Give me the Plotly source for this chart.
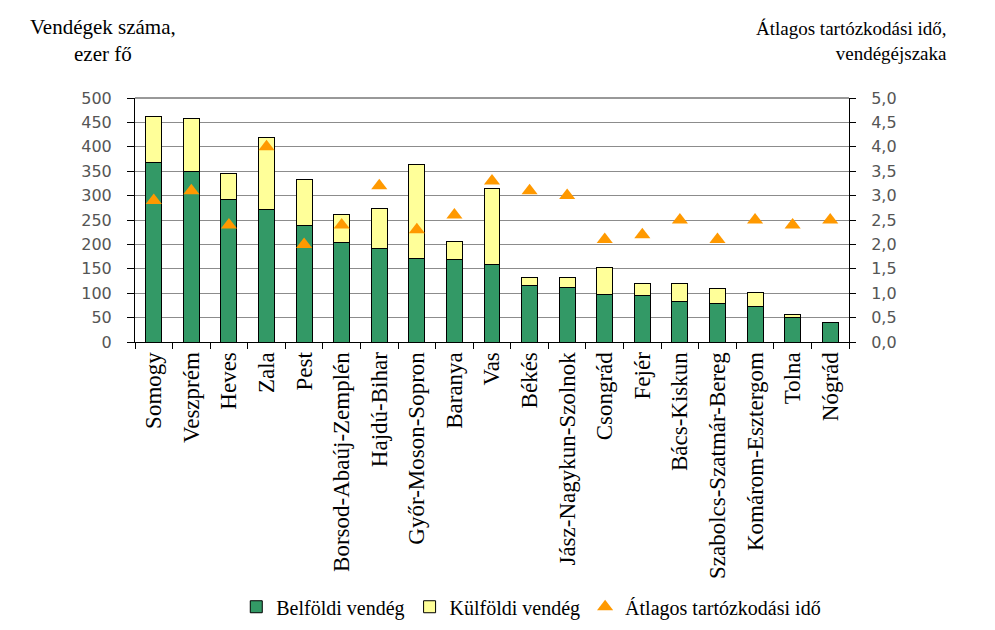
import plotly.graph_objects as go

megyek = [
    "Somogy", "Veszprém", "Heves", "Zala", "Pest", "Borsod-Abaúj-Zemplén",
    "Hajdú-Bihar", "Győr-Moson-Sopron", "Baranya", "Vas", "Békés",
    "Jász-Nagykun-Szolnok", "Csongrád", "Fejér", "Bács-Kiskun",
    "Szabolcs-Szatmár-Bereg", "Komárom-Esztergom", "Tolna", "Nógrád",
]
# vendégek száma, ezer fő
belfoldi = [367, 350, 293, 271, 239, 204, 192, 171, 169, 158, 116, 112, 97, 95, 84, 79, 72, 50, 39]
osszes = [462, 459, 345, 420, 333, 261, 273, 363, 206, 315, 132, 132, 152, 119, 119, 110, 102, 57, 40]
kulfoldi = [o - b for o, b in zip(osszes, belfoldi)]
# átlagos tartózkodási idő, vendégéjszaka
atlag_ido = [2.9, 3.1, 2.4, 4.0, 2.0, 2.4, 3.2, 2.3, 2.6, 3.3, 3.1, 3.0, 2.1, 2.2, 2.5, 2.1, 2.5, 2.4, 2.5]

serif = "Liberation Serif"
sans = "DejaVu Sans"

fig = go.Figure()
fig.add_trace(
    go.Bar(
        x=megyek, y=belfoldi, name="Belföldi vendég",
        marker=dict(color="#339966", line=dict(color="black", width=1)),
    )
)
fig.add_trace(
    go.Bar(
        x=megyek, y=kulfoldi, name="Külföldi vendég",
        marker=dict(color="#FFFF99", line=dict(color="black", width=1)),
    )
)
fig.add_trace(
    go.Scatter(
        x=megyek, y=atlag_ido, name="Átlagos tartózkodási idő", yaxis="y2",
        mode="markers",
        marker=dict(symbol="triangle-up", size=14, color="#FF9900"),
    )
)

fig.update_layout(
    width=995, height=630,
    margin=dict(l=127, r=154, t=90, b=282),
    paper_bgcolor="white", plot_bgcolor="white",
    barmode="stack", bargap=0.575,
    showlegend=True,
    separators=", ",
    legend=dict(
        orientation="h", x=0.555, xanchor="center", y=-1.085, yanchor="middle",
        font=dict(family=serif, size=20, color="black"),
        itemwidth=30, traceorder="normal",
    ),
    xaxis=dict(
        type="category", range=[-0.5, 18.5], tickangle=-90, tickson="boundaries",
        ticks="outside", ticklen=6, tickcolor="black",
        showline=True, linecolor="black", linewidth=1,
        tickfont=dict(family=serif, size=23, color="black"),
        showgrid=False, automargin=False,
    ),
    yaxis=dict(
        range=[0, 500], dtick=50, tickformat="d",
        ticks="outside", ticklen=7, tickcolor="black",
        showline=True, linecolor="black", linewidth=1,
        showgrid=True, gridcolor="#8c8c8c", gridwidth=1,
        tickfont=dict(family=sans, size=16, color="#555555"),
        ticklabelstandoff=12, zeroline=False, automargin=False,
    ),
    yaxis2=dict(
        overlaying="y", side="right", range=[0, 5], dtick=0.5,
        tickformat=".1f",
        ticks="outside", ticklen=6, tickcolor="black",
        showline=True, linecolor="black", linewidth=1,
        showgrid=False, zeroline=False,
        tickfont=dict(family=sans, size=16, color="#555555"),
        ticklabelstandoff=12, automargin=False,
    ),
    shapes=[
        dict(type="line", xref="paper", yref="paper", x0=0, x1=1, y0=1, y1=1,
             line=dict(color="#333333", width=1)),
    ],
    annotations=[
        dict(text="Vendégek száma,<br>ezer fő", xref="paper", yref="paper",
             x=-0.045, y=1.235, xanchor="center", yanchor="middle", showarrow=False,
             align="center", font=dict(family=serif, size=21, color="black")),
        dict(text="Átlagos tartózkodási idő,<br>vendégéjszaka", xref="paper", yref="paper",
             x=1.14, y=1.235, xanchor="right", yanchor="middle", showarrow=False,
             align="right", font=dict(family=serif, size=19, color="black")),
    ],
)

fig.write_html("out.html")
